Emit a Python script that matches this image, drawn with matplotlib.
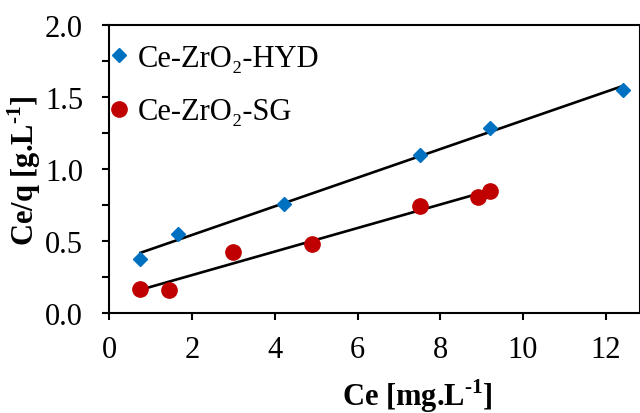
import numpy as np
import matplotlib
matplotlib.use("Agg")
import matplotlib.pyplot as plt

plt.rcParams['font.family'] = ['Liberation Serif', 'DejaVu Serif']
plt.rcParams['mathtext.fontset'] = 'custom'
plt.rcParams['mathtext.rm'] = 'Liberation Serif'
plt.rcParams['mathtext.bf'] = 'Liberation Serif:bold'

hyd_x = [0.75, 1.65, 4.21, 7.50, 9.21, 12.41]
hyd_y = [0.374, 0.547, 0.761, 1.100, 1.285, 1.550]
sg_x = [0.75, 1.44, 3.00, 4.91, 7.51, 8.91, 9.21]
sg_y = [0.168, 0.161, 0.422, 0.478, 0.745, 0.805, 0.849]
labels = ['Ce-ZrO₂-HYD', 'Ce-ZrO₂-SG']
xticks = [0, 2, 4, 6, 8, 10, 12]
yticks = [0.0, 0.5, 1.0, 1.5, 2.0]

blue = '#0070C0'
red = '#C00000'

fig = plt.figure(figsize=(6.4, 4.14), dpi=100)
ax = fig.add_axes([0.171, 0.241, 0.829, 0.696])

for xs, ys in [(hyd_x, hyd_y), (sg_x, sg_y)]:
    p = np.polyfit(xs, ys, 1)
    xl = np.array([min(xs), max(xs)])
    ax.plot(xl, np.polyval(p, xl), color='black', lw=1.9, zorder=2)

ax.plot(hyd_x, hyd_y, 'D', color=blue, ms=7.5, mec=blue, label=labels[0], zorder=3)
ax.plot(sg_x, sg_y, 'o', color=red, ms=11, mec=red, label=labels[1], zorder=3)

ax.set_xlim(0, 12.83)
ax.set_ylim(0, 2.0)
ax.set_xticks(xticks)
ax.set_yticks(yticks)
ax.set_yticks(np.arange(0, 2.01, 0.25), minor=True)
ax.set_yticklabels([f'{v:.1f}' for v in yticks])
ax.tick_params(axis='both', which='both', direction='out', length=5, width=1.5,
               labelsize=22, colors='black')
ax.tick_params(axis='y', pad=14)
ax.tick_params(axis='x', pad=11)
for s in ax.spines.values():
    s.set_linewidth(1.5)

ax.set_xlabel(r'Ce [mg.L$^{\mathbf{\text{-}1}}$]', fontsize=22, fontweight='bold')
ax.set_ylabel(r'Ce/q [g.L$^{\mathbf{\text{-}1}}$]', fontsize=22, fontweight='bold')
ax.xaxis.set_label_coords(0.581, -0.22)
ax.yaxis.set_label_coords(-0.125, 0.5)

leg = ax.legend(loc='upper left', bbox_to_anchor=(0.004, 0.934), frameon=False,
                fontsize=22, handlelength=0.5, handletextpad=0.36, numpoints=1,
                labelspacing=0.79, borderaxespad=0.0, borderpad=0.0)

fig.savefig('out.png', dpi=100)
